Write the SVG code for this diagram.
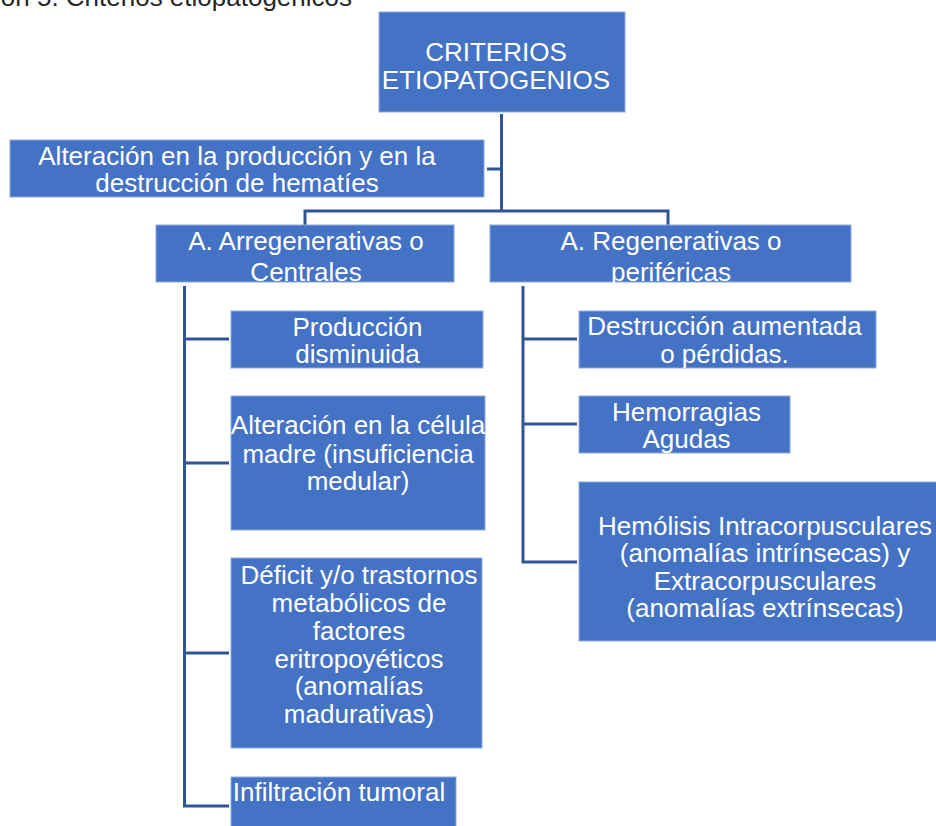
<svg xmlns="http://www.w3.org/2000/svg" width="936" height="826" viewBox="0 0 936 826">
<style>
.box{fill:#4472C4;stroke:#8FAADC;stroke-width:1}
.t{font-family:"Liberation Sans",Arial,sans-serif;font-size:26px;fill:#FFFFFF;text-anchor:middle}
.c{fill:none;stroke:#2F5597;stroke-width:3}
.cap{font-family:"Liberation Sans",Arial,sans-serif;font-size:26px;fill:#262626;text-anchor:end}
</style>
<rect width="936" height="826" fill="#FFFFFF"/>
<text class="cap" x="352" y="6">Ilustración 5. Criterios etiopatogénicos</text>
<g id="connectors">
<path class="c" d="M501.5 114 V211"/>
<path class="c" d="M487 169 H501.5"/>
<path class="c" d="M305 226 V211 H668 V226"/>
<path class="c" d="M184.5 286 V806 H229"/>
<path class="c" d="M184.5 339 H229"/>
<path class="c" d="M184.5 463 H229"/>
<path class="c" d="M184.5 653 H229"/>
<path class="c" d="M523 286 V562 H577"/>
<path class="c" d="M523 339 H577"/>
<path class="c" d="M523 424 H577"/>
</g>
<g id="root">
<rect class="box" x="379" y="12" width="246" height="100"/>
<text class="t" x="496" y="61">CRITERIOS</text>
<text class="t" x="496" y="89">ETIOPATOGENIOS</text>
</g>
<g id="alteracion">
<rect class="box" x="10" y="140" width="474" height="57"/>
<text class="t" x="237" y="165">Alteración en la producción y en la</text>
<text class="t" x="237" y="192">destrucción de hematíes</text>
</g>
<g id="arregenerativas">
<rect class="box" x="156" y="225" width="298" height="57"/>
<text class="t" x="306" y="250">A. Arregenerativas o</text>
<text class="t" x="306" y="281">Centrales</text>
</g>
<g id="regenerativas">
<rect class="box" x="490" y="225" width="361" height="57"/>
<text class="t" x="671" y="250">A. Regenerativas o</text>
<text class="t" x="671" y="281">periféricas</text>
</g>
<g id="produccion">
<rect class="box" x="231" y="311" width="252" height="57"/>
<text class="t" x="357.5" y="336">Producción</text>
<text class="t" x="357.5" y="363">disminuida</text>
</g>
<g id="celula-madre">
<rect class="box" x="231" y="396" width="254" height="134"/>
<text class="t" x="358" y="434">Alteración en la célula</text>
<text class="t" x="358" y="463">madre (insuficiencia</text>
<text class="t" x="358" y="490">medular)</text>
</g>
<g id="deficit">
<rect class="box" x="231" y="558" width="251" height="190"/>
<text class="t" x="359" y="584">Déficit y/o trastornos</text>
<text class="t" x="359" y="612">metabólicos de</text>
<text class="t" x="359" y="640">factores</text>
<text class="t" x="359" y="668">eritropoyéticos</text>
<text class="t" x="359" y="695">(anomalías</text>
<text class="t" x="359" y="723">madurativas)</text>
</g>
<g id="infiltracion">
<rect class="box" x="231" y="777" width="225" height="52"/>
<text class="t" x="339" y="801">Infiltración tumoral</text>
</g>
<g id="destruccion">
<rect class="box" x="579" y="311" width="297" height="57"/>
<text class="t" x="724.5" y="335">Destrucción aumentada</text>
<text class="t" x="724.5" y="363">o pérdidas.</text>
</g>
<g id="hemorragias">
<rect class="box" x="579" y="396" width="211" height="57"/>
<text class="t" x="686.5" y="421">Hemorragias</text>
<text class="t" x="686.5" y="448">Agudas</text>
</g>
<g id="hemolisis">
<rect class="box" x="579" y="482" width="360" height="159"/>
<text class="t" x="765" y="535">Hemólisis Intracorpusculares</text>
<text class="t" x="765" y="562">(anomalías intrínsecas) y</text>
<text class="t" x="765" y="590">Extracorpusculares</text>
<text class="t" x="765" y="617">(anomalías extrínsecas)</text>
</g>
</svg>
